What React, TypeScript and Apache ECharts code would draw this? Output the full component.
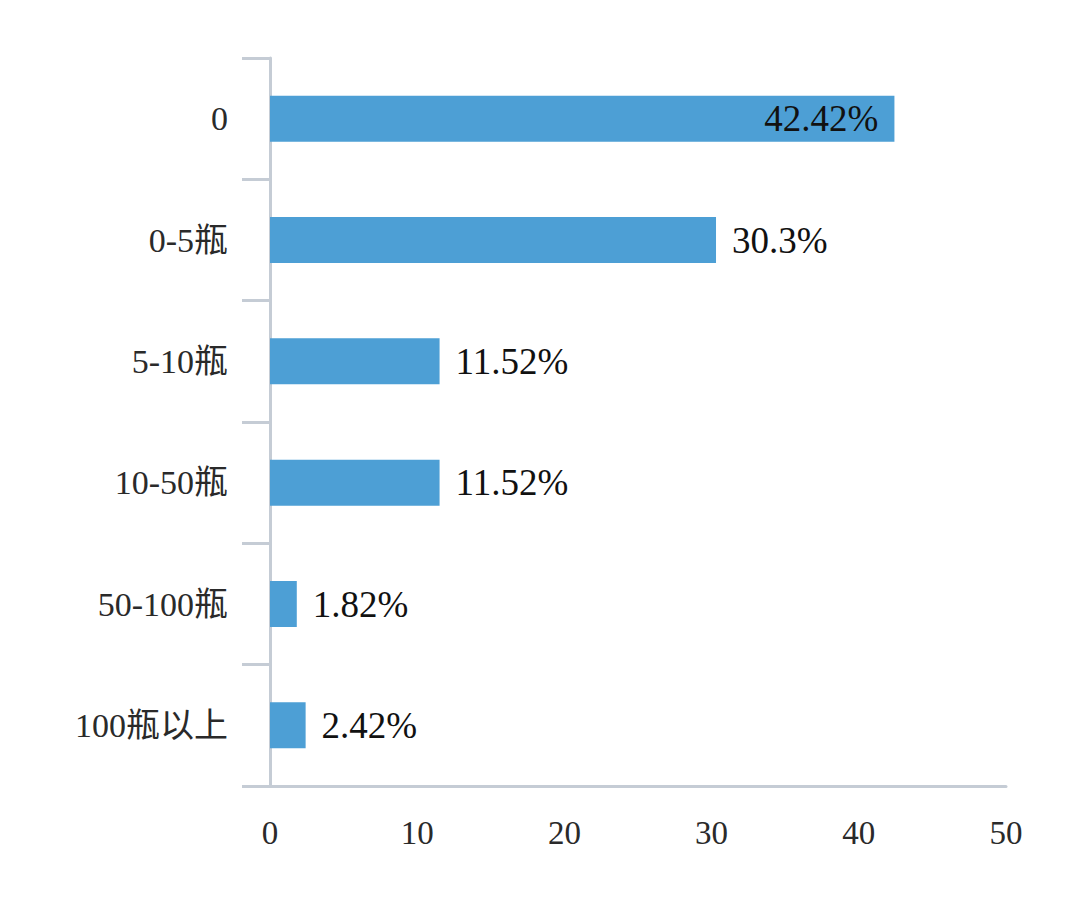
import React, { useEffect, useRef } from "react";
import * as echarts from "echarts";

const categories = ["0", "0-5瓶", "5-10瓶", "10-50瓶", "50-100瓶", "100瓶以上"];
const values = [42.42, 30.3, 11.52, 11.52, 1.82, 2.42];
const labels = ["42.42%", "30.3%", "11.52%", "11.52%", "1.82%", "2.42%"];
const xMin = 0;
const xMax = 50;
const xInterval = 10;

const FONT = "'Liberation Serif', 'Times New Roman', 'Noto Sans CJK SC', serif";

export default function App() {
  const ref = useRef<HTMLDivElement>(null);
  useEffect(() => {
    const chart = echarts.init(ref.current!, null, { renderer: "svg" });
    chart.setOption({
      animation: false,
      backgroundColor: "#ffffff",
      grid: { left: 270, right: 74, top: 58, bottom: 121, containLabel: false },
      xAxis: {
        type: "value",
        min: xMin,
        max: xMax,
        interval: xInterval,
        axisLine: { show: true, lineStyle: { color: "#c5ccd5", width: 3 } },
        axisTick: { show: false },
        splitLine: { show: false },
        axisLabel: { color: "#2a2a2a", fontFamily: FONT, fontSize: 33, margin: 30 },
      },
      yAxis: {
        type: "category",
        inverse: true,
        data: categories,
        axisLine: { show: true, lineStyle: { color: "#c5ccd5", width: 3 } },
        axisTick: { show: true, length: 28, lineStyle: { color: "#c5ccd5", width: 3 } },
        axisLabel: { color: "#2a2a2a", fontFamily: FONT, fontSize: 34, margin: 42 },
      },
      series: [
        {
          type: "bar",
          barWidth: 46,
          itemStyle: { color: "#4d9fd5" },
          data: values.map((v, i) => ({
            value: v,
            label: {
              show: true,
              position: i === 0 ? "insideRight" : "right",
              distance: 16,
              formatter: labels[i],
              color: "#111111",
              fontFamily: FONT,
              fontSize: 37,
            },
          })),
        },
      ],
    });
    return () => chart.dispose();
  }, []);
  return (
    <div
      ref={ref}
      style={{ position: "fixed", left: 0, top: 0, width: 1080, height: 907 }}
    />
  );
}
